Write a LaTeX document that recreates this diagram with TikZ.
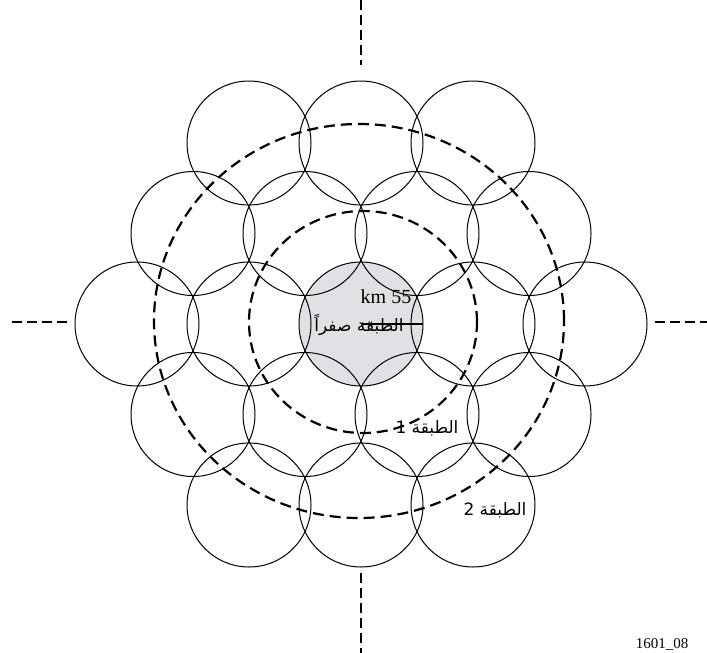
\documentclass[tikz,border=0pt]{standalone}
\usepackage{fontspec}
\setmainfont{Liberation Serif}
\newfontfamily\arabicfont[Script=Arabic]{DejaVu Sans}
\TeXXeTstate=1
\definecolor{cellgray}{RGB}{224,225,228}
\begin{document}
\begin{tikzpicture}[x=1pt,y=-1pt,
  cell/.style={circle,draw=black,line width=1pt,minimum size=124pt,inner sep=0pt,outer sep=0pt},
  tierline/.style={draw=black,line width=2.2pt,dash pattern=on 11pt off 6pt},
  axisline/.style={draw=black,line width=2.5pt,dash pattern=on 10pt off 5pt},
  lab/.style={inner sep=0pt,font=\fontsize{17}{17}\selectfont}]
\useasboundingbox (0,0) rectangle (707,653);
% gray centre cell
\fill[cellgray] (361,324) circle (62pt);
% row 0
\node[cell] (r0a) at (137,324) {};
\node[cell] (r0b) at (249,324) {};
\node[cell] (c00) at (361,324) {};
\node[cell] (r0d) at (473,324) {};
\node[cell] (r0e) at (585,324) {};
% rows -1 and +1
\node[cell] (u1a) at (193,233.5) {};
\node[cell] (u1b) at (305,233.5) {};
\node[cell] (u1c) at (417,233.5) {};
\node[cell] (u1d) at (529,233.5) {};
\node[cell] (d1a) at (193,414.5) {};
\node[cell] (d1b) at (305,414.5) {};
\node[cell] (d1c) at (417,414.5) {};
\node[cell] (d1d) at (529,414.5) {};
% rows -2 and +2
\node[cell] (u2a) at (249,143) {};
\node[cell] (u2b) at (361,143) {};
\node[cell] (u2c) at (473,143) {};
\node[cell] (d2a) at (249,505) {};
\node[cell] (d2b) at (361,505) {};
\node[cell] (d2c) at (473,505) {};
% tier rings
\coordinate (t1c) at (363,322);
\coordinate (t2c) at (359,321);
\draw[tierline] (t1c) ellipse [x radius=114pt, y radius=111pt];
\draw[tierline] (t2c) ellipse [x radius=205pt, y radius=197pt];
% axes
\coordinate (axL1) at (12,322);  \coordinate (axL2) at (68,322);
\coordinate (axR1) at (655,322); \coordinate (axR2) at (707,322);
\coordinate (axT1) at (361,0);   \coordinate (axT2) at (361,65);
\coordinate (axB1) at (361,573); \coordinate (axB2) at (361,653);
\draw[axisline] (axL1) -- (axL2);
\draw[axisline] (axR1) -- (axR2);
\draw[axisline] (axT1) -- (axT2);
\draw[axisline] (axB1) -- (axB2);
% radius
\draw[line width=1.4pt] (c00.center) -- (c00.east);
% labels
\node[lab,font=\fontsize{20}{20}\selectfont] (km) at (386,297) {km 55};
\node[lab] (tier0) at (359,325) {\arabicfont\beginR الطبقة صفراً\endR};
\node[lab] (tier1) at (427,428) {\arabicfont\beginR الطبقة 1\endR};
\node[lab] (tier2) at (495,510) {\arabicfont\beginR الطبقة 2\endR};
\node[inner sep=0pt,anchor=base,font=\fontsize{15}{15}\selectfont] (fig) at (662,648) {1601\_08};
\end{tikzpicture}
\end{document}
